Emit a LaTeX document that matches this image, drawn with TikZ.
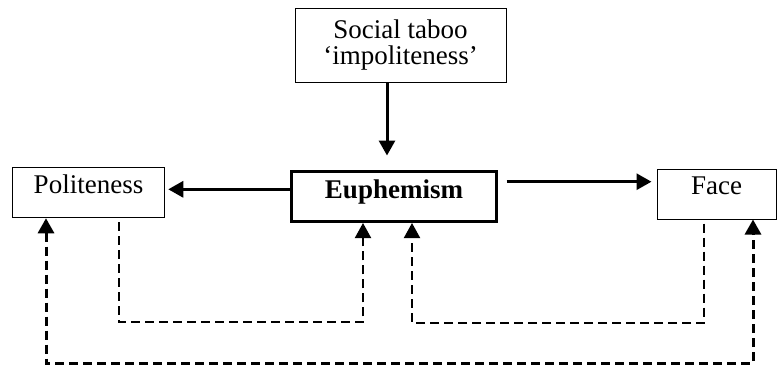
\documentclass[tikz,border=0pt]{standalone}
\usepackage{fontspec}
\setmainfont{Liberation Serif}
\usetikzlibrary{arrows.meta}

\begin{document}
\begin{tikzpicture}[x=0.5pt,y=-0.5pt,font=\fontsize{13.5}{13}\selectfont,line join=miter,
	>={Triangle[length=7.5pt,width=8pt]},
	box/.style={draw,line width=0.5pt,inner sep=0pt,align=center},
	arr/.style={->,line width=1.5pt},
	dashline/.style={->,dash pattern=on 4.5pt off 2.5pt,line width=1pt}]
	\useasboundingbox (0,0) rectangle (777,372);
	\node[box,minimum width=105.5pt,minimum height=37pt] (taboo) at (400.5,45) {Social taboo\\`impoliteness'};
	\node[box,line width=1.5pt,minimum width=102.25pt,text height=13.25pt,text depth=11.75pt] (euph) at (394,196.5) {\textbf{Euphemism}};
	\node[box,minimum width=76.25pt,text height=12.9pt,text depth=12.35pt] (pol) at (88.5,192.5) {Politeness};
	\node[box,minimum width=59.5pt,text height=12.5pt,text depth=12.5pt] (face) at (716.5,194) {Face};
	% solid arrows
	\coordinate (t) at ([xshift=-6.75pt]taboo.south);
	\coordinate (l) at ([yshift=3.6pt]euph.west);
	\coordinate (r) at ([yshift=7.4pt]euph.east);
	\draw[arr,shorten >=7.25pt] (t) -- (t |- euph.north);
	\draw[arr,shorten >=1.5pt] (l) -- (l -| pol.east);
	\draw[arr,shorten <=4.4pt,shorten >=2.5pt] (r) -- (r -| face.west);
	% dashed returns
	\coordinate (a) at ([xshift=15.25pt]pol.south);
	\coordinate (b) at ([xshift=-15.5pt]euph.south);
	\coordinate (c) at ([xshift=-6.25pt]face.south);
	\coordinate (d) at ([xshift=9pt]euph.south);
	\coordinate (e) at ([xshift=-21.25pt]pol.south);
	\coordinate (f) at ([xshift=18.25pt]face.south);
	\draw[dashline,shorten <=2pt] (a) -- ++(0,104) -| (b);
	\draw[dashline,shorten <=2pt] (c) -- ++(0,103) -| (d);
	\draw[dashline,<->,line width=1.5pt] (e) -- ++(0,145) -| (f);
\end{tikzpicture}
\end{document}
